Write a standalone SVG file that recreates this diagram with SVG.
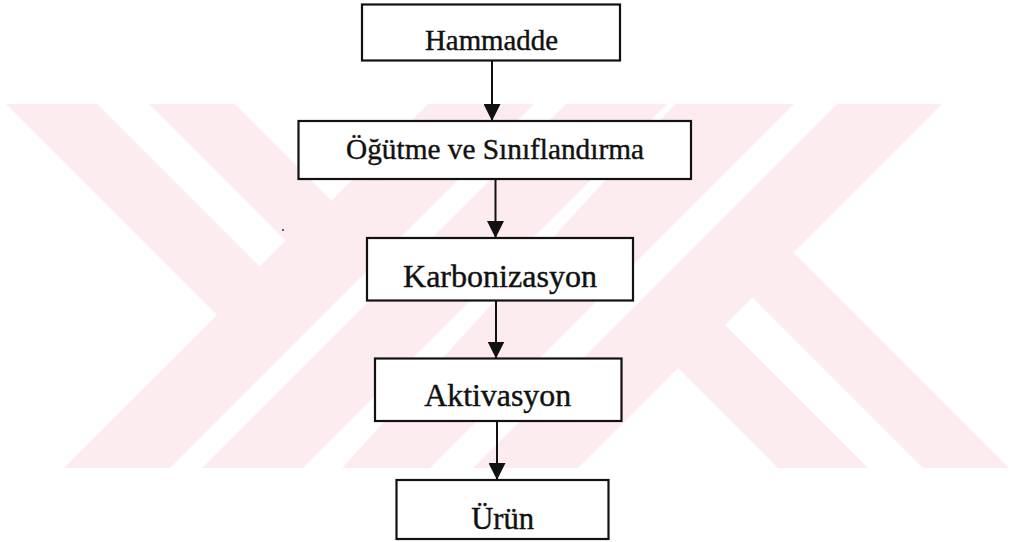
<svg xmlns="http://www.w3.org/2000/svg" width="1012" height="542" viewBox="0 0 1012 542">
  <style>
    .box { fill: #ffffff; stroke: #111111; stroke-width: 2.2; }
    .lbl { font-family: "Liberation Serif", "Times New Roman", serif; fill: #111111; stroke: #111111; stroke-width: 0.4; text-anchor: middle; }
    .conn { stroke: #111111; stroke-width: 2; fill: none; }
    .wm { fill: #fdecef; stroke: none; }
  </style>
  <defs>
    <marker id="ah" viewBox="0 0 17 17" refX="17" refY="8.5" markerWidth="17" markerHeight="17" markerUnits="userSpaceOnUse" orient="auto">
      <path d="M0,0 L17,8.5 L0,17 Z" fill="#111111"/>
    </marker>
  </defs>
  <rect x="0" y="0" width="1012" height="542" fill="#ffffff"/>
  <g id="watermark">
    <path class="wm" d="M428,104 L534,104 L170,468 L64,468 Z
      M566,104 L667,104 L303,468 L202,468 Z
      M675,104 L794,104 L430,468 L342,468 Z
      M837,104 L942,104 L578,468 L473,468 Z
      M6,104 L97,104 L259.5,266.5 L285.5,240.5 L149,104 L235,104 L331.5,200.5 L217,315 Z
      M678,368 L793.5,252.5 L1009,468 L923,468 L752.5,297.5 L725,325 L868,468 L778,468 Z"/>
  </g>
  <circle cx="283" cy="230" r="1" fill="#333333"/>
  <g id="connectors">
    <line class="conn" x1="492" y1="61" x2="492" y2="121" marker-end="url(#ah)"/>
    <line class="conn" x1="495.5" y1="179" x2="495.5" y2="238" marker-end="url(#ah)"/>
    <line class="conn" x1="496" y1="300.5" x2="496" y2="358.5" marker-end="url(#ah)"/>
    <line class="conn" x1="497" y1="421" x2="497" y2="480" marker-end="url(#ah)"/>
  </g>
  <g id="n1">
    <rect class="box" x="362" y="4.5" width="258" height="56"/>
    <text class="lbl" x="491.5" y="49.5" font-size="28.5" textLength="133" lengthAdjust="spacingAndGlyphs">Hammadde</text>
  </g>
  <g id="n2">
    <rect class="box" x="298.5" y="121" width="392.5" height="58"/>
    <text class="lbl" x="495" y="159" font-size="29" textLength="298" lengthAdjust="spacingAndGlyphs">Öğütme ve Sınıflandırma</text>
  </g>
  <g id="n3">
    <rect class="box" x="367" y="238" width="266" height="62.5"/>
    <text class="lbl" x="500" y="286.5" font-size="31.5" textLength="194" lengthAdjust="spacingAndGlyphs">Karbonizasyon</text>
  </g>
  <g id="n4">
    <rect class="box" x="375" y="358.5" width="246.5" height="62.5"/>
    <text class="lbl" x="497.7" y="405.5" font-size="31" textLength="147" lengthAdjust="spacingAndGlyphs">Aktivasyon</text>
  </g>
  <g id="n5">
    <rect class="box" x="396.5" y="480" width="212" height="59"/>
    <text class="lbl" x="502.7" y="528.5" font-size="30.5" textLength="63" lengthAdjust="spacingAndGlyphs">Ürün</text>
  </g>
</svg>
